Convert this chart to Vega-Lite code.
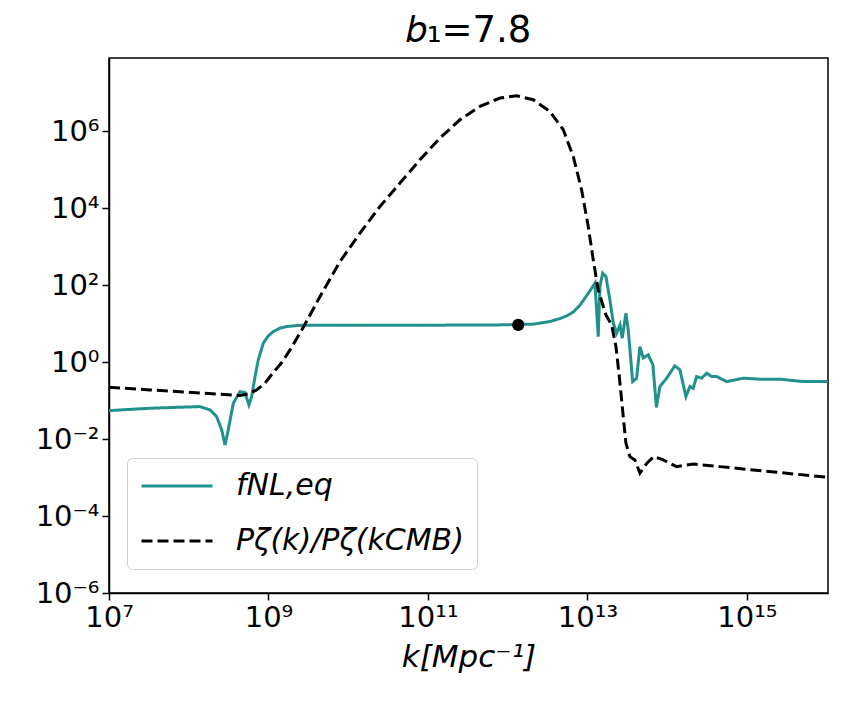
{
  "$schema": "https://vega.github.io/schema/vega-lite/v6.json",
  "width": 719,
  "height": 535,
  "autosize": {"type": "none"},
  "padding": {"left": 109, "top": 58, "right": 14, "bottom": 112},
  "title": {"text": "𝑏₁=7.8", "fontSize": 37, "font": "DejaVu Sans", "fontWeight": "normal", "color": "black", "offset": 8, "anchor": "middle"},
  "datasets": {
    "curves": [
      {"series": "fNL,eq", "k": 1e7, "v": 0.0548},
      {"series": "fNL,eq", "k": 3.27e7, "v": 0.0632},
      {"series": "fNL,eq", "k": 1.38e8, "v": 0.0697},
      {"series": "fNL,eq", "k": 1.85e8, "v": 0.0571},
      {"series": "fNL,eq", "k": 2.24e8, "v": 0.0383},
      {"series": "fNL,eq", "k": 2.59e8, "v": 0.0173},
      {"series": "fNL,eq", "k": 2.85e8, "v": 0.00703},
      {"series": "fNL,eq", "k": 3.13e8, "v": 0.0173},
      {"series": "fNL,eq", "k": 3.62e8, "v": 0.0853},
      {"series": "fNL,eq", "k": 4.40e8, "v": 0.171},
      {"series": "fNL,eq", "k": 5.07e8, "v": 0.161},
      {"series": "fNL,eq", "k": 5.69e8, "v": 0.0771},
      {"series": "fNL,eq", "k": 6.15e8, "v": 0.127},
      {"series": "fNL,eq", "k": 6.78e8, "v": 0.420},
      {"series": "fNL,eq", "k": 7.45e8, "v": 1.14},
      {"series": "fNL,eq", "k": 8.61e8, "v": 3.10},
      {"series": "fNL,eq", "k": 9.96e8, "v": 4.80},
      {"series": "fNL,eq", "k": 1.148e9, "v": 6.20},
      {"series": "fNL,eq", "k": 1.393e9, "v": 7.60},
      {"series": "fNL,eq", "k": 1.69e9, "v": 8.36},
      {"series": "fNL,eq", "k": 2.26e9, "v": 8.87},
      {"series": "fNL,eq", "k": 3.01e9, "v": 9.09},
      {"series": "fNL,eq", "k": 4.46e10, "v": 9.0},
      {"series": "fNL,eq", "k": 8.0e11, "v": 9.25},
      {"series": "fNL,eq", "k": 2.09e12, "v": 9.66},
      {"series": "fNL,eq", "k": 3.39e12, "v": 11.3},
      {"series": "fNL,eq", "k": 4.52e12, "v": 13.5},
      {"series": "fNL,eq", "k": 5.48e12, "v": 15.8},
      {"series": "fNL,eq", "k": 6.64e12, "v": 20},
      {"series": "fNL,eq", "k": 8.05e12, "v": 30},
      {"series": "fNL,eq", "k": 9.77e12, "v": 53},
      {"series": "fNL,eq", "k": 1.13e13, "v": 83},
      {"series": "fNL,eq", "k": 1.242e13, "v": 112},
      {"series": "fNL,eq", "k": 1.365e13, "v": 4.59},
      {"series": "fNL,eq", "k": 1.436e13, "v": 91.6},
      {"series": "fNL,eq", "k": 1.552e13, "v": 204},
      {"series": "fNL,eq", "k": 1.706e13, "v": 167},
      {"series": "fNL,eq", "k": 1.914e13, "v": 41.3},
      {"series": "fNL,eq", "k": 2.11e13, "v": 10.3},
      {"series": "fNL,eq", "k": 2.32e13, "v": 5.63},
      {"series": "fNL,eq", "k": 2.56e13, "v": 9.25},
      {"series": "fNL,eq", "k": 2.73e13, "v": 4.18},
      {"series": "fNL,eq", "k": 3.04e13, "v": 18.7},
      {"series": "fNL,eq", "k": 3.25e13, "v": 6.86},
      {"series": "fNL,eq", "k": 3.69e13, "v": 0.311},
      {"series": "fNL,eq", "k": 4.14e13, "v": 0.381},
      {"series": "fNL,eq", "k": 4.55e13, "v": 2.52},
      {"series": "fNL,eq", "k": 5.01e13, "v": 1.28},
      {"series": "fNL,eq", "k": 5.78e13, "v": 1.54},
      {"series": "fNL,eq", "k": 6.62e13, "v": 0.845},
      {"series": "fNL,eq", "k": 7.33e13, "v": 0.0664},
      {"series": "fNL,eq", "k": 8.11e13, "v": 0.231},
      {"series": "fNL,eq", "k": 9.84e13, "v": 0.381},
      {"series": "fNL,eq", "k": 1.250e14, "v": 0.796},
      {"series": "fNL,eq", "k": 1.445e14, "v": 0.627},
      {"series": "fNL,eq", "k": 1.718e14, "v": 0.127},
      {"series": "fNL,eq", "k": 1.928e14, "v": 0.231},
      {"series": "fNL,eq", "k": 2.12e14, "v": 0.209},
      {"series": "fNL,eq", "k": 2.34e14, "v": 0.420},
      {"series": "fNL,eq", "k": 2.70e14, "v": 0.381},
      {"series": "fNL,eq", "k": 3.13e14, "v": 0.514},
      {"series": "fNL,eq", "k": 3.61e14, "v": 0.420},
      {"series": "fNL,eq", "k": 4.17e14, "v": 0.420},
      {"series": "fNL,eq", "k": 5.56e14, "v": 0.311},
      {"series": "fNL,eq", "k": 8.99e14, "v": 0.381},
      {"series": "fNL,eq", "k": 1.455e15, "v": 0.359},
      {"series": "fNL,eq", "k": 2.59e15, "v": 0.359},
      {"series": "fNL,eq", "k": 5.08e15, "v": 0.311},
      {"series": "fNL,eq", "k": 1.038e16, "v": 0.311},
      {"series": "Pζ(k)/Pζ(kCMB)", "k": 1e7, "v": 0.222},
      {"series": "Pζ(k)/Pζ(kCMB)", "k": 3.27e7, "v": 0.189},
      {"series": "Pζ(k)/Pζ(kCMB)", "k": 1.38e8, "v": 0.158},
      {"series": "Pζ(k)/Pζ(kCMB)", "k": 4.40e8, "v": 0.135},
      {"series": "Pζ(k)/Pζ(kCMB)", "k": 5.58e8, "v": 0.149},
      {"series": "Pζ(k)/Pζ(kCMB)", "k": 7.11e8, "v": 0.189},
      {"series": "Pζ(k)/Pζ(kCMB)", "k": 9.04e8, "v": 0.282},
      {"series": "Pζ(k)/Pζ(kCMB)", "k": 1.138e9, "v": 0.524},
      {"series": "Pζ(k)/Pζ(kCMB)", "k": 1.466e9, "v": 0.97},
      {"series": "Pζ(k)/Pζ(kCMB)", "k": 1.862e9, "v": 2.07},
      {"series": "Pζ(k)/Pζ(kCMB)", "k": 2.71e9, "v": 7.73},
      {"series": "Pζ(k)/Pζ(kCMB)", "k": 4.43e9, "v": 50.4},
      {"series": "Pζ(k)/Pζ(kCMB)", "k": 7.89e9, "v": 409},
      {"series": "Pζ(k)/Pζ(kCMB)", "k": 1.403e10, "v": 2239},
      {"series": "Pζ(k)/Pζ(kCMB)", "k": 2.50e10, "v": 11010},
      {"series": "Pζ(k)/Pζ(kCMB)", "k": 4.46e10, "v": 44670},
      {"series": "Pζ(k)/Pζ(kCMB)", "k": 7.94e10, "v": 180300},
      {"series": "Pζ(k)/Pζ(kCMB)", "k": 1.413e11, "v": 660700},
      {"series": "Pζ(k)/Pζ(kCMB)", "k": 2.52e11, "v": 1970000},
      {"series": "Pζ(k)/Pζ(kCMB)", "k": 4.49e11, "v": 4380000},
      {"series": "Pζ(k)/Pζ(kCMB)", "k": 8.00e11, "v": 7230000},
      {"series": "Pζ(k)/Pζ(kCMB)", "k": 1.294e12, "v": 8300000},
      {"series": "Pζ(k)/Pζ(kCMB)", "k": 2.09e12, "v": 6530000},
      {"series": "Pζ(k)/Pζ(kCMB)", "k": 3.39e12, "v": 3240000},
      {"series": "Pζ(k)/Pζ(kCMB)", "k": 4.98e12, "v": 1080000},
      {"series": "Pζ(k)/Pζ(kCMB)", "k": 6.64e12, "v": 219300},
      {"series": "Pζ(k)/Pζ(kCMB)", "k": 8.45e12, "v": 29920},
      {"series": "Pζ(k)/Pζ(kCMB)", "k": 1.023e13, "v": 3327},
      {"series": "Pζ(k)/Pζ(kCMB)", "k": 1.183e13, "v": 453},
      {"series": "Pζ(k)/Pζ(kCMB)", "k": 1.365e13, "v": 75.2},
      {"series": "Pζ(k)/Pζ(kCMB)", "k": 1.706e13, "v": 16.8},
      {"series": "Pζ(k)/Pζ(kCMB)", "k": 2.01e13, "v": 9.25},
      {"series": "Pζ(k)/Pζ(kCMB)", "k": 2.28e13, "v": 2.52},
      {"series": "Pζ(k)/Pζ(kCMB)", "k": 2.51e13, "v": 0.420},
      {"series": "Pζ(k)/Pζ(kCMB)", "k": 2.76e13, "v": 0.0571},
      {"series": "Pζ(k)/Pζ(kCMB)", "k": 3.04e13, "v": 0.00778},
      {"series": "Pζ(k)/Pζ(kCMB)", "k": 3.41e13, "v": 0.00349},
      {"series": "Pζ(k)/Pζ(kCMB)", "k": 3.94e13, "v": 0.00286},
      {"series": "Pζ(k)/Pζ(kCMB)", "k": 4.55e13, "v": 0.00131},
      {"series": "Pζ(k)/Pζ(kCMB)", "k": 5.57e13, "v": 0.00235},
      {"series": "Pζ(k)/Pζ(kCMB)", "k": 6.82e13, "v": 0.00353},
      {"series": "Pζ(k)/Pζ(kCMB)", "k": 8.91e13, "v": 0.00286},
      {"series": "Pζ(k)/Pζ(kCMB)", "k": 1.312e14, "v": 0.00192},
      {"series": "Pζ(k)/Pζ(kCMB)", "k": 2.12e14, "v": 0.00225},
      {"series": "Pζ(k)/Pζ(kCMB)", "k": 4.58e14, "v": 0.00192},
      {"series": "Pζ(k)/Pζ(kCMB)", "k": 1.20e15, "v": 0.00157},
      {"series": "Pζ(k)/Pζ(kCMB)", "k": 3.15e15, "v": 0.00129},
      {"series": "Pζ(k)/Pζ(kCMB)", "k": 1.038e16, "v": 0.00102}
    ],
    "dot": [
      {"k": 1.355e12, "v": 9.25}
    ]
  },
  "layer": [
    {
      "data": {"name": "curves"},
      "mark": {"type": "line", "strokeWidth": 3, "clip": true, "strokeCap": "butt"},
      "encoding": {
        "x": {
          "field": "k", "type": "quantitative",
          "scale": {"type": "log", "domain": [1e7, 1.04e16], "nice": false},
          "axis": {
            "values": [1e7, 1e9, 1e11, 1e13, 1e15],
            "labelExpr": "'10' + (round(log(datum.value)/LN10)==7 ? '⁷' : round(log(datum.value)/LN10)==9 ? '⁹' : round(log(datum.value)/LN10)==11 ? '¹¹' : round(log(datum.value)/LN10)==13 ? '¹³' : '¹⁵')",
            "title": "k[Mpc⁻¹]",
            "titleFontStyle": "italic",
            "labelPadding": 3,
            "titlePadding": 10
          }
        },
        "y": {
          "field": "v", "type": "quantitative",
          "scale": {"type": "log", "domain": [1e-6, 7.94e7], "nice": false},
          "axis": {
            "values": [1e-6, 1e-4, 0.01, 1, 100, 10000, 1000000],
            "labelExpr": "'10' + (round(log(datum.value)/LN10)==-6 ? '⁻⁶' : round(log(datum.value)/LN10)==-4 ? '⁻⁴' : round(log(datum.value)/LN10)==-2 ? '⁻²' : round(log(datum.value)/LN10)==0 ? '⁰' : round(log(datum.value)/LN10)==2 ? '²' : round(log(datum.value)/LN10)==4 ? '⁴' : '⁶')",
            "title": null,
            "labelPadding": 3
          }
        },
        "color": {
          "field": "series", "type": "nominal",
          "scale": {"domain": ["fNL,eq", "Pζ(k)/Pζ(kCMB)"], "range": ["#21918c", "#000000"]},
          "legend": {
            "title": null,
            "orient": "none",
            "legendX": 18,
            "legendY": 400,
            "symbolType": "stroke",
            "symbolSize": 5041,
            "symbolStrokeWidth": 3,
            "clipHeight": 30,
            "labelFontSize": 30,
            "labelFontStyle": "italic",
            "labelFont": "DejaVu Sans",
            "labelColor": "black",
            "labelOffset": 22,
            "rowPadding": 25,
            "padding": 13,
            "fillColor": "rgba(255,255,255,0.8)",
            "strokeColor": "#d0d0d0",
            "cornerRadius": 5,
            "labelLimit": 400
          }
        },
        "strokeDash": {
          "field": "series", "type": "nominal",
          "scale": {"domain": ["fNL,eq", "Pζ(k)/Pζ(kCMB)"], "range": [[1, 0], [11, 5]]},
          "legend": {
            "title": null,
            "orient": "none",
            "legendX": 18,
            "legendY": 400,
            "symbolType": "stroke",
            "symbolSize": 5041,
            "symbolStrokeWidth": 3,
            "clipHeight": 30,
            "labelFontSize": 30,
            "labelFontStyle": "italic",
            "labelFont": "DejaVu Sans",
            "labelColor": "black",
            "labelOffset": 22,
            "rowPadding": 25,
            "padding": 13,
            "fillColor": "rgba(255,255,255,0.8)",
            "strokeColor": "#d0d0d0",
            "cornerRadius": 5,
            "labelLimit": 400
          }
        }
      }
    },
    {
      "data": {"name": "dot"},
      "mark": {"type": "point", "filled": true, "size": 150, "color": "black", "opacity": 1},
      "encoding": {
        "x": {"field": "k", "type": "quantitative"},
        "y": {"field": "v", "type": "quantitative"}
      }
    }
  ],
  "config": {
    "font": "DejaVu Sans",
    "view": {"stroke": "black", "strokeWidth": 1.5},
    "axis": {
      "grid": false,
      "domainColor": "black",
      "domainWidth": 1.5,
      "tickColor": "black",
      "tickWidth": 1.5,
      "tickSize": 7,
      "labelFontSize": 29,
      "labelFont": "DejaVu Sans",
      "labelColor": "black",
      "labelOverlap": false,
      "labelFlush": false,
      "labelBound": false,
      "titleFontSize": 31,
      "titleFont": "DejaVu Sans",
      "titleFontWeight": "normal",
      "titleColor": "black"
    }
  }
}
